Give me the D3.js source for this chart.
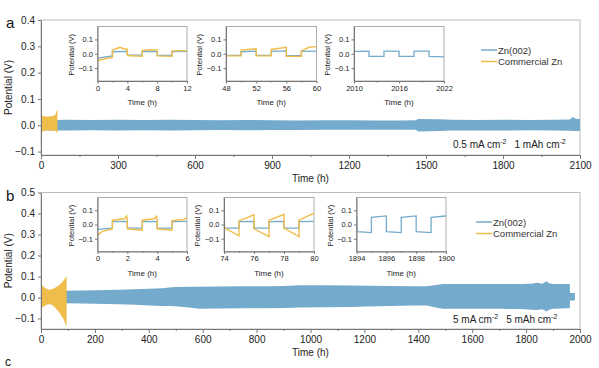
<!DOCTYPE html>
<html><head><meta charset="utf-8">
<script src="https://cdn.jsdelivr.net/npm/d3@7"></script>
<style>body{margin:0;background:#fff} text{font-family:"Liberation Sans",Arial,sans-serif}</style>
</head><body><svg id="c" width="599" height="368"></svg>
<script>
// ---------- DATA ----------
const seriesNames = ["Zn(002)", "Commercial Zn"];
// Panel a envelopes (h, V)
const aBlueT  = [0, 62, 100, 200, 300, 400, 500, 600, 700, 800, 900, 1000, 1100, 1200, 1300, 1400, 1460, 1470, 1550, 1600, 1700, 1800, 1900, 2000, 2060, 2072, 2080, 2090, 2100];
const aBlueHi = [0.020, 0.020, 0.021, 0.020, 0.021, 0.020, 0.021, 0.020, 0.019, 0.020, 0.019, 0.018, 0.019, 0.019, 0.018, 0.018, 0.019, 0.024, 0.023, 0.021, 0.020, 0.021, 0.020, 0.021, 0.022, 0.031, 0.027, 0.024, 0.024];
const aBlueLo = [-0.020, -0.020, -0.020, -0.019, -0.020, -0.019, -0.020, -0.019, -0.018, -0.019, -0.018, -0.018, -0.017, -0.017, -0.017, -0.017, -0.017, -0.024, -0.022, -0.020, -0.020, -0.020, -0.019, -0.020, -0.021, -0.022, -0.022, -0.022, -0.022];
const aYellowT  = [0, 1, 3, 6, 10, 20, 30, 40, 50, 56, 60, 62, 64];
const aYellowHi = [0.050, 0.054, 0.040, 0.036, 0.034, 0.033, 0.033, 0.034, 0.036, 0.040, 0.052, 0.058, 0.058];
const aYellowLo = [-0.030, -0.050, -0.032, -0.025, -0.022, -0.020, -0.020, -0.020, -0.021, -0.022, -0.025, -0.028, -0.028];
// Panel b envelopes
const bBlueT  = [0, 93, 150, 200, 290, 350, 400, 450, 475, 500, 550, 586, 650, 750, 846, 900, 961, 1050, 1150, 1208, 1300, 1380, 1431, 1460, 1492, 1550, 1600, 1703, 1780, 1820, 1840, 1860, 1876, 1885, 1900, 1951, 1962, 1963, 1981];
const bBlueHi = [0.032, 0.032, 0.033, 0.034, 0.037, 0.039, 0.042, 0.044, 0.048, 0.050, 0.051, 0.051, 0.052, 0.053, 0.053, 0.055, 0.058, 0.058, 0.057, 0.056, 0.055, 0.053, 0.053, 0.058, 0.064, 0.064, 0.064, 0.064, 0.064, 0.065, 0.070, 0.066, 0.077, 0.068, 0.064, 0.064, 0.064, 0.021, 0.021];
const bBlueLo = [-0.027, -0.027, -0.029, -0.030, -0.032, -0.035, -0.038, -0.040, -0.041, -0.042, -0.048, -0.053, -0.052, -0.051, -0.051, -0.050, -0.048, -0.046, -0.045, -0.043, -0.041, -0.038, -0.038, -0.046, -0.054, -0.054, -0.054, -0.054, -0.055, -0.058, -0.060, -0.056, -0.067, -0.058, -0.054, -0.051, -0.051, -0.014, -0.014];
const bYellowT  = [0, 3, 8, 15, 25, 31, 40, 50, 60, 70, 80, 88, 93, 95];
const bYellowHi = [0.060, 0.058, 0.052, 0.045, 0.039, 0.037, 0.039, 0.045, 0.052, 0.062, 0.075, 0.088, 0.100, 0.100];
const bYellowLo = [-0.050, -0.048, -0.045, -0.038, -0.033, -0.032, -0.035, -0.045, -0.060, -0.075, -0.095, -0.115, -0.134, -0.134];

// Inset traces
const ia1BlueT = [0, 2, 2, 4, 4, 6, 6, 8, 8, 10, 10, 12];
const ia1BlueV = [-0.03, -0.015, 0.014, 0.016, -0.008, -0.010, 0.015, 0.016, -0.010, -0.012, 0.015, 0.016];
const ia1YelT  = [0, 0.5, 2, 2, 2.5, 3, 3.5, 4, 4, 6, 6, 7, 8, 8, 10, 10, 12];
const ia1YelV  = [-0.05, -0.04, -0.025, 0.025, 0.035, 0.045, 0.035, 0.03, -0.012, -0.018, 0.022, 0.028, 0.025, -0.015, -0.018, 0.02, 0.022];
const ia2BlueT = [48, 50, 50, 52, 52, 54, 54, 56, 56, 58, 58, 60];
const ia2BlueV = [-0.012, -0.012, 0.014, 0.018, -0.012, -0.012, 0.016, 0.020, -0.014, -0.014, 0.016, 0.018];
const ia2YelT  = [48, 50, 50, 52, 52, 54, 54, 56, 56, 58, 58, 59, 60];
const ia2YelV  = [-0.015, -0.015, 0.025, 0.035, -0.015, -0.015, 0.030, 0.045, -0.018, -0.018, 0.020, 0.045, 0.050];
const ia3BlueT = [2010, 2012, 2012, 2014, 2014, 2016, 2016, 2018, 2018, 2020, 2020, 2022];
const ia3BlueV = [0.016, 0.018, -0.018, -0.018, 0.018, 0.018, -0.018, -0.018, 0.018, 0.018, -0.018, -0.022];
const ib1BlueT = [0, 1, 1, 2, 2, 3, 3, 4, 4, 5, 5, 6];
const ib1BlueV = [-0.035, -0.025, 0.020, 0.022, -0.025, -0.025, 0.020, 0.022, -0.025, -0.025, 0.020, 0.022];
const ib1YelT  = [0, 0.3, 1, 1, 1.8, 1.95, 2, 2, 3, 3, 3.8, 3.95, 4, 4, 5, 5, 5.8, 6];
const ib1YelV  = [-0.075, -0.05, -0.03, 0.03, 0.04, 0.06, 0.03, -0.03, -0.04, 0.03, 0.04, 0.058, 0.03, -0.03, -0.04, 0.028, 0.035, 0.05];
const ib2BlueT = [74, 75, 75, 76, 76, 77, 77, 78, 78, 79, 79, 80];
const ib2BlueV = [-0.025, -0.025, 0.020, 0.022, -0.025, -0.025, 0.020, 0.022, -0.025, -0.025, 0.020, 0.022];
const ib2YelT  = [74, 74.05, 75, 75, 76, 76, 77, 77, 78, 78, 79, 79, 80];
const ib2YelV  = [0.08, -0.025, -0.08, 0.025, 0.068, -0.03, -0.085, 0.03, 0.072, -0.025, -0.085, 0.03, 0.08];
const ib3BlueT = [1894, 1894.03, 1895, 1895, 1896, 1896, 1897, 1897, 1898, 1898, 1899, 1899, 1900];
const ib3BlueV = [0.06, -0.05, -0.057, 0.05, 0.06, -0.05, -0.057, 0.05, 0.06, -0.05, -0.057, 0.05, 0.06];

// Tick labels
const aXTicks = [0, 300, 600, 900, 1200, 1500, 1800, 2100];
const aYTicks = [-0.1, 0.0, 0.1, 0.2, 0.3, 0.4];
const bXTicks = [0, 200, 400, 600, 800, 1000, 1200, 1400, 1600, 1800, 2000];
const bYTicks = [-0.1, 0.0, 0.1, 0.2, 0.3, 0.4, 0.5];
const insetYTicks = [-0.1, 0.0, 0.1];
const ia1XTicks = [0, 4, 8, 12], ia2XTicks = [48, 52, 56, 60], ia3XTicks = [2010, 2016, 2022];
const ib1XTicks = [0, 2, 4, 6], ib2XTicks = [74, 76, 78, 80], ib3XTicks = [1894, 1896, 1898, 1900];
const aNote = ["0.5 mA cm", "-2", "1 mAh cm", "-2"];
const bNote = ["5 mA cm", "-2", "5 mAh cm", "-2"];

// ---------- STYLE ----------
const BLUE = "#74aacb", YEL = "#efbd4a", AX = "#777", FR = "#bdbdbd", TXT = "#222";
const svg = d3.select("#c");
svg.append("rect").attr("width", 599).attr("height", 368).attr("fill", "#fff");
let clipId = 0;

function zip(t, v) { return t.map((d, i) => [d, v[i]]); }
function env(t, hi, lo) { return t.map((d, i) => [d, hi[i], lo[i]]); }

function minorTicks(ticks) {
  const m = [];
  for (let i = 0; i < ticks.length - 1; i++) m.push((ticks[i] + ticks[i + 1]) / 2);
  return m;
}

function styleAxis(g) {
  g.select(".domain").attr("stroke", AX);
  g.selectAll(".tick line").attr("stroke", AX);
  g.selectAll(".tick text").attr("fill", TXT).style("font-family", "Liberation Sans, Arial, sans-serif");
}

function mainPanel(o) {
  const x = d3.scaleLinear().domain(o.xd).range([o.x0, o.x1]);
  const y = d3.scaleLinear().domain(o.yd).range([o.y1, o.y0]);
  const g = svg.append("g");
  g.append("rect").attr("x", o.x0).attr("y", o.y0).attr("width", o.x1 - o.x0).attr("height", o.y1 - o.y0)
    .attr("fill", "none").attr("stroke", FR).attr("stroke-width", 1);
  const area = d3.area().x(d => x(d[0])).y0(d => y(d[2])).y1(d => y(d[1]));
  g.append("path").datum(o.blue).attr("d", area).attr("fill", BLUE);
  g.append("path").datum(o.yel).attr("d", area).attr("fill", YEL);
  const xa = g.append("g").attr("transform", `translate(0,${o.y1})`)
    .call(d3.axisBottom(x).tickValues(o.xt).tickSize(4).tickSizeOuter(0).tickPadding(3).tickFormat(d3.format("d")));
  xa.selectAll(".tick text").attr("font-size", 10);
  styleAxis(xa);
  const xm = g.append("g").attr("transform", `translate(0,${o.y1})`)
    .call(d3.axisBottom(x).tickValues(minorTicks(o.xt)).tickSize(2).tickFormat(""));
  xm.select(".domain").remove(); xm.selectAll("line").attr("stroke", AX);
  const ya = g.append("g").attr("transform", `translate(${o.x0},0)`)
    .call(d3.axisLeft(y).tickValues(o.yt).tickSize(3).tickSizeOuter(0).tickPadding(3).tickFormat(d3.format(".1f")));
  ya.selectAll(".tick text").attr("font-size", 10);
  styleAxis(ya);
  g.append("text").attr("x", (o.x0 + o.x1) / 2).attr("y", o.y1 + 27).attr("text-anchor", "middle")
    .attr("font-size", 10).attr("fill", TXT).text("Time (h)");
  g.append("text").attr("transform", `translate(${o.x0 - 29},${(o.y0 + o.y1) / 2}) rotate(-90)`)
    .attr("text-anchor", "middle").attr("font-size", 10).attr("fill", TXT).text("Potential (V)");
  g.append("text").attr("x", 6).attr("y", o.y0 + 8).attr("font-size", 15).attr("fill", "#111").text(o.letter);
  seriesNames.forEach((n, i) => {
    const ly = o.legY + i * 11.5;
    g.append("line").attr("x1", o.legX).attr("x2", o.legX + 16).attr("y1", ly).attr("y2", ly)
      .attr("stroke", i === 0 ? BLUE : YEL).attr("stroke-width", 1.5);
    g.append("text").attr("x", o.legX + 17).attr("y", ly + 3.5).attr("font-size", 9.5).attr("fill", "#333").text(n);
  });
  const t = g.append("text").attr("x", o.noteX).attr("y", o.noteY).attr("font-size", 10).attr("fill", TXT);
  t.append("tspan").text(o.note[0]);
  t.append("tspan").attr("dy", -4).attr("font-size", 7).text(o.note[1]);
  t.append("tspan").attr("dy", 4).attr("dx", 8).text(o.note[2]);
  t.append("tspan").attr("dy", -4).attr("font-size", 7).text(o.note[3]);
}

function inset(o) {
  const x = d3.scaleLinear().domain(o.xd).range([o.x0, o.x1]);
  const y = d3.scaleLinear().domain([-0.19, 0.19]).range([o.y1, o.y0]);
  const g = svg.append("g");
  const id = "clip" + (clipId++);
  g.append("clipPath").attr("id", id).append("rect").attr("x", o.x0).attr("y", o.y0)
    .attr("width", o.x1 - o.x0).attr("height", o.y1 - o.y0);
  g.append("rect").attr("x", o.x0).attr("y", o.y0).attr("width", o.x1 - o.x0).attr("height", o.y1 - o.y0)
    .attr("fill", "#fff").attr("stroke", "#999").attr("stroke-width", 0.8);
  const line = d3.line().x(d => x(d[0])).y(d => y(d[1]));
  const lg = g.append("g").attr("clip-path", `url(#${id})`);
  lg.append("path").datum(o.blue).attr("d", line).attr("fill", "none").attr("stroke", BLUE).attr("stroke-width", 1.3);
  if (o.yel) lg.append("path").datum(o.yel).attr("d", line).attr("fill", "none").attr("stroke", YEL).attr("stroke-width", 1.4);
  const xa = g.append("g").attr("transform", `translate(0,${o.y1})`)
    .call(d3.axisBottom(x).tickValues(o.xt).tickSize(2.5).tickSizeOuter(0).tickPadding(2).tickFormat(d3.format("d")));
  xa.selectAll(".tick text").attr("font-size", 7.5);
  styleAxis(xa);
  const xm = g.append("g").attr("transform", `translate(0,${o.y1})`)
    .call(d3.axisBottom(x).tickValues(minorTicks(o.xt)).tickSize(1.5).tickFormat(""));
  xm.select(".domain").remove(); xm.selectAll("line").attr("stroke", AX);
  const ya = g.append("g").attr("transform", `translate(${o.x0},0)`)
    .call(d3.axisLeft(y).tickValues(insetYTicks).tickSize(2.5).tickSizeOuter(0).tickPadding(2).tickFormat(d3.format(".1f")));
  ya.selectAll(".tick text").attr("font-size", 7.5);
  styleAxis(ya);
  g.append("text").attr("x", (o.x0 + o.x1) / 2).attr("y", o.y1 + 24).attr("text-anchor", "middle")
    .attr("font-size", 8).attr("fill", TXT).text("Time (h)");
  g.append("text").attr("transform", `translate(${o.x0 - 24},${(o.y0 + o.y1) / 2 + 1}) rotate(-90)`)
    .attr("text-anchor", "middle").attr("font-size", 7.5).attr("fill", TXT).text("Potential (V)");
}

mainPanel({ letter: "a", x0: 41, x1: 580, y0: 20, y1: 155, xd: [0, 2100], yd: [-0.113, 0.4],
  xt: aXTicks, yt: aYTicks, blue: env(aBlueT, aBlueHi, aBlueLo), yel: env(aYellowT, aYellowHi, aYellowLo),
  legX: 481, legY: 50, note: aNote, noteX: 453, noteY: 148 });
mainPanel({ letter: "b", x0: 41, x1: 580, y0: 192.5, y1: 329, xd: [0, 2000], yd: [-0.15, 0.5],
  xt: bXTicks, yt: bYTicks, blue: env(bBlueT, bBlueHi, bBlueLo), yel: env(bYellowT, bYellowHi, bYellowLo),
  legX: 476, legY: 222, note: bNote, noteX: 453, noteY: 323 });

inset({ x0: 97.5, x1: 187, y0: 26.5, y1: 81, xd: [0, 12], xt: ia1XTicks, blue: zip(ia1BlueT, ia1BlueV), yel: zip(ia1YelT, ia1YelV) });
inset({ x0: 226, x1: 316.5, y0: 26.5, y1: 81, xd: [48, 60], xt: ia2XTicks, blue: zip(ia2BlueT, ia2BlueV), yel: zip(ia2YelT, ia2YelV) });
inset({ x0: 354, x1: 444, y0: 26.5, y1: 81, xd: [2010, 2022], xt: ia3XTicks, blue: zip(ia3BlueT, ia3BlueV) });
inset({ x0: 97.5, x1: 187, y0: 197.5, y1: 251.5, xd: [0, 6], xt: ib1XTicks, blue: zip(ib1BlueT, ib1BlueV), yel: zip(ib1YelT, ib1YelV) });
inset({ x0: 224, x1: 314, y0: 197.5, y1: 251.5, xd: [74, 80], xt: ib2XTicks, blue: zip(ib2BlueT, ib2BlueV), yel: zip(ib2YelT, ib2YelV) });
inset({ x0: 356.5, x1: 446, y0: 197.5, y1: 251.5, xd: [1894, 1900], xt: ib3XTicks, blue: zip(ib3BlueT, ib3BlueV) });

svg.append("text").attr("x", 5).attr("y", 366).attr("font-size", 12).attr("fill", "#111").text("c");
</script></body></html>
